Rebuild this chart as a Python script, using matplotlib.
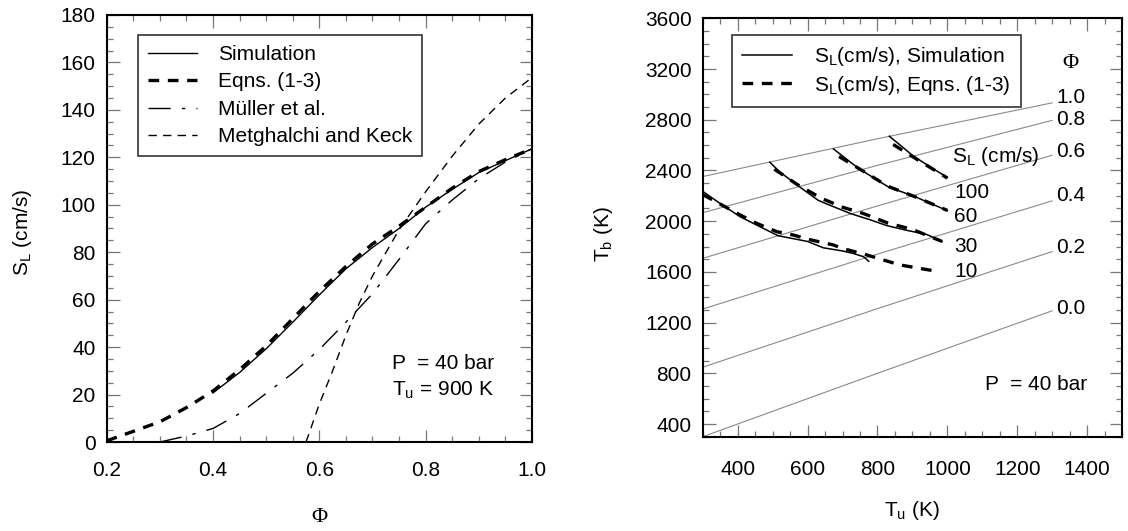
import matplotlib
matplotlib.use('Agg')
import matplotlib.pyplot as plt
from matplotlib.ticker import MultipleLocator, FormatStrFormatter

plt.rcParams['font.family'] = ['Liberation Sans', 'DejaVu Sans']
plt.rcParams['font.size'] = 15

# ---------------- Left panel data: S_L vs Phi (P=40 bar, Tu=900 K) ----------------
phi_sim = [0.40, 0.45, 0.50, 0.55, 0.60, 0.65, 0.70, 0.75, 0.80, 0.85, 0.90, 0.95, 1.00]
sl_sim = [20.7, 29.3, 39.3, 50.5, 62.0, 73.0, 82.0, 90.0, 99.0, 106.5, 113.6, 118.6, 123.6]

phi_eq = [0.20, 0.25, 0.30, 0.35, 0.40, 0.45, 0.50, 0.55, 0.60, 0.65, 0.70, 0.75, 0.80, 0.85, 0.90, 0.95, 1.00]
sl_eq = [0.5, 4.5, 8.5, 14.5, 21.5, 30.5, 40.5, 52.0, 63.5, 74.0, 83.5, 91.0, 99.0, 107.0, 114.0, 119.0, 123.6]

phi_mul = [0.30, 0.35, 0.40, 0.45, 0.50, 0.55, 0.60, 0.65, 0.70, 0.75, 0.80, 0.85, 0.90, 0.95, 1.00]
sl_mul = [0.0, 2.5, 5.7, 12.0, 20.5, 29.0, 39.0, 50.5, 62.5, 77.0, 92.0, 102.0, 111.0, 118.0, 123.6]

phi_mk = [0.575, 0.60, 0.625, 0.65, 0.675, 0.70, 0.75, 0.80, 0.85, 0.90, 0.95, 1.00]
sl_mk = [0.0, 16.0, 30.0, 45.0, 58.5, 70.0, 89.5, 105.5, 120.5, 134.0, 145.0, 153.6]

left_labels = ['Simulation', 'Eqns. (1-3)', 'M\u00fcller et al.', 'Metghalchi and Keck']

# ---------------- Right panel data: Tb vs Tu ----------------
tu_phi = [300, 800, 1300]
phi_values = ['1.0', '0.8', '0.6', '0.4', '0.2', '0.0']
tb_phi = {
    '1.0': [2352, 2650, 2933],
    '0.8': [2067, 2440, 2795],
    '0.6': [1707, 2120, 2520],
    '0.4': [1307, 1740, 2160],
    '0.2': [848, 1310, 1760],
    '0.0': [300, 800, 1293],
}
phi_label_tb = [2975, 2802, 2549, 2203, 1790, 1312]

sl_values = ['10', '30', '60', '100']
sim_tu = {
    '10': [300, 349, 407, 464, 516, 559, 600, 645, 700, 731, 760, 775],
    '30': [492, 520, 570, 630, 660, 723, 780, 827, 880, 941, 985],
    '60': [674, 744, 790, 830, 910, 1000],
    '100': [834, 865, 902, 950, 1000],
}
sim_tb = {
    '10': [2235, 2141, 2035, 1956, 1885, 1862, 1840, 1790, 1765, 1745, 1720, 1684],
    '30': [2465, 2390, 2285, 2165, 2130, 2060, 2010, 1965, 1930, 1895, 1840],
    '60': [2570, 2420, 2340, 2272, 2190, 2083],
    '100': [2670, 2600, 2515, 2430, 2345],
}
eq_tu = {
    '10': [300, 407, 454, 512, 559, 605, 673, 700, 769, 864, 975],
    '30': [505, 570, 640, 700, 760, 830, 900, 985],
    '60': [690, 750, 830, 910, 1000],
    '100': [845, 900, 950, 1000],
}
eq_tb = {
    '10': [2210, 2049, 1983, 1917, 1891, 1855, 1813, 1785, 1734, 1655, 1602],
    '30': [2410, 2290, 2180, 2110, 2060, 1985, 1935, 1840],
    '60': [2510, 2410, 2275, 2190, 2085],
    '100': [2605, 2510, 2425, 2340],
}
sl_label_tb = [1604, 1804, 2038, 2230]
right_labels = ['S$_\\mathregular{L}$(cm/s), Simulation', 'S$_\\mathregular{L}$(cm/s), Eqns. (1-3)']

# ---------------- Figure ----------------
fig = plt.figure(figsize=(11.28, 5.31), dpi=100)
axL = fig.add_axes([0.0946, 0.1676, 0.3770, 0.8042])
axR = fig.add_axes([0.6230, 0.1776, 0.3717, 0.7879])

def style_axes(ax):
    for s in ax.spines.values():
        s.set_linewidth(1.5)
        s.set_color('black')
    ax.tick_params(which='both', direction='in', top=True, right=True,
                   color='#777777', width=0.9)
    ax.tick_params(which='major', length=9, labelsize=15)
    ax.tick_params(which='minor', length=4.5)

# Left
axL.plot(phi_sim, sl_sim, color='black', lw=1.0, label=left_labels[0], zorder=3)
axL.plot(phi_eq, sl_eq, color='black', lw=2.4, dashes=(3.2, 2.6), label=left_labels[1], zorder=2)
axL.plot(phi_mul, sl_mul, color='black', lw=1.0, dashes=(16, 8, 2.5, 8), label=left_labels[2])
axL.plot(phi_mk, sl_mk, color='black', lw=1.0, dashes=(6, 4.5), label=left_labels[3])
axL.set_xlim(0.2, 1.0)
axL.set_ylim(0, 180)
axL.xaxis.set_major_locator(MultipleLocator(0.2))
axL.xaxis.set_minor_locator(MultipleLocator(0.05))
axL.yaxis.set_major_locator(MultipleLocator(20))
axL.yaxis.set_minor_locator(MultipleLocator(5))
axL.xaxis.set_major_formatter(FormatStrFormatter('%.1f'))
style_axes(axL)
axL.tick_params(axis='x', which='major', pad=14)
axL.tick_params(axis='y', which='major', pad=8)
axL.set_ylabel('S$_\\mathregular{L}$ (cm/s)', fontsize=15)
axL.yaxis.set_label_coords(-0.172, 0.49)
axL.set_xlabel('\u03a6', fontsize=16, family=['Liberation Serif', 'DejaVu Serif'])
axL.xaxis.set_label_coords(0.5, -0.155)
legL = axL.legend(loc='upper left', bbox_to_anchor=(0.074, 0.952), borderaxespad=0,
                  fontsize=15, handlelength=2.35, handletextpad=1.05, borderpad=0.45,
                  labelspacing=0.41, fancybox=False, framealpha=1, edgecolor='#333333')
legL.get_frame().set_linewidth(1.2)
axL.text(0.736, 32.9, 'P  = 40 bar', fontsize=15, va='center')
axL.text(0.736, 22.0, 'T$_\\mathregular{u}$ = 900 K', fontsize=15, va='center')

# Right
for name in phi_values:
    axR.plot(tu_phi, tb_phi[name], color='#8a8a8a', lw=0.8, zorder=1)
for name, yl in zip(phi_values, phi_label_tb):
    axR.text(1312, yl, name, fontsize=15, va='center', ha='left')
axR.text(1351, 3241, '\u03a6', fontsize=16, va='center', ha='center',
         family=['Liberation Serif', 'DejaVu Serif'])
for i, name in enumerate(sl_values):
    axR.plot(sim_tu[name], sim_tb[name], color='black', lw=1.1, zorder=3,
             label=right_labels[0] if i == 0 else None)
    axR.plot(eq_tu[name], eq_tb[name], color='black', lw=2.4, dashes=(3.2, 2.6), zorder=2,
             label=right_labels[1] if i == 0 else None)
for name, yl in zip(sl_values, sl_label_tb):
    axR.text(1019, yl, name, fontsize=15, va='center', ha='left')
axR.text(1014, 2509, 'S$_\\mathregular{L}$ (cm/s)', fontsize=15, va='center', ha='left')
axR.text(1107, 713, 'P  = 40 bar', fontsize=15, va='center', ha='left')
axR.set_xlim(300, 1500)
axR.set_ylim(300, 3600)
axR.xaxis.set_major_locator(MultipleLocator(200))
axR.xaxis.set_minor_locator(MultipleLocator(50))
axR.yaxis.set_major_locator(MultipleLocator(400))
axR.yaxis.set_minor_locator(MultipleLocator(100))
style_axes(axR)
axR.tick_params(axis='x', which='major', pad=17)
axR.tick_params(axis='y', which='major', pad=8)
axR.set_ylabel('T$_\\mathregular{b}$ (K)', fontsize=15)
axR.yaxis.set_label_coords(-0.21, 0.484)
axR.set_xlabel('T$_\\mathregular{u}$ (K)', fontsize=15)
axR.xaxis.set_label_coords(0.5, -0.15)
legR = axR.legend(loc='upper left', bbox_to_anchor=(0.069, 0.96), borderaxespad=0,
                  fontsize=15, handlelength=2.4, handletextpad=1.04, borderpad=0.5,
                  labelspacing=0.25, fancybox=False, framealpha=1, edgecolor='#333333')
legR.get_frame().set_linewidth(1.2)

fig.savefig('out.png', dpi=100)
